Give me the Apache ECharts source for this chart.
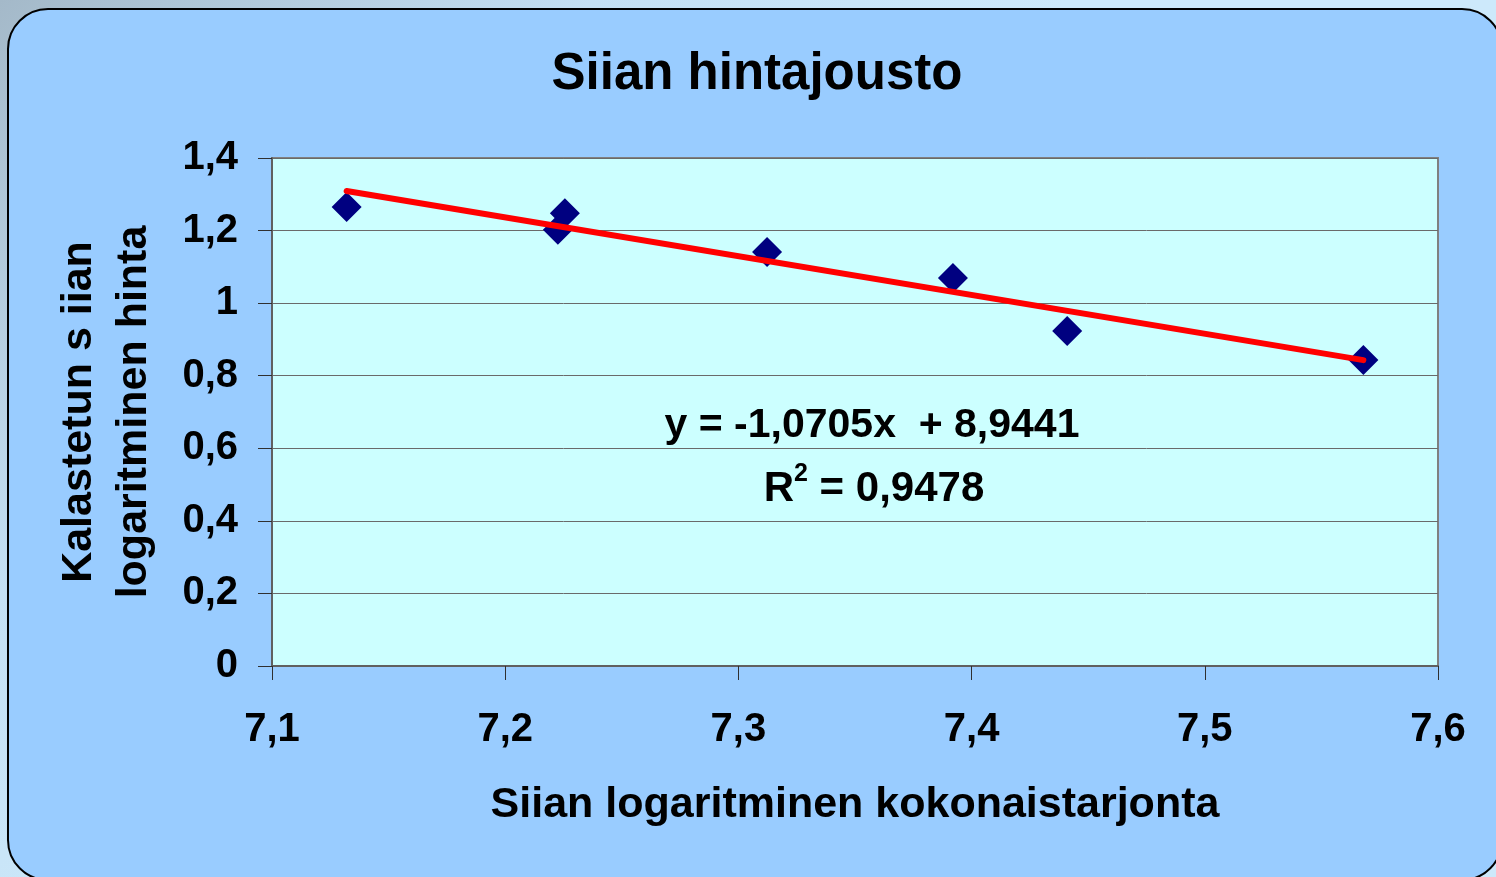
<!DOCTYPE html>
<html>
<head>
<meta charset="utf-8">
<title>Siian hintajousto</title>
<script src="https://cdn.jsdelivr.net/npm/echarts@6/dist/echarts.min.js"></script>
<style>
  html, body { margin: 0; padding: 0; }
  body {
    width: 1496px; height: 877px; overflow: hidden;
    background: linear-gradient(135deg, #a4b9c9 0%, #c4e0f4 25%, #cde9fb 45%, #cde9fb 100%);
  }
  #chart { width: 1496px; height: 877px; }
</style>
</head>
<body>
<div id="chart"></div>
<script>
// havaintopisteet: log kokonaistarjonta, log hinta
const supplyLog = [7.132, 7.2226, 7.2256, 7.3123, 7.392, 7.441, 7.568]
const priceLog = [1.265, 1.202, 1.248, 1.141, 1.069, 0.923, 0.843]

// trendiviivan päätepisteet
const trendX = [7.132, 7.568]
const trendY = [1.309, 0.843]

const titleText = "Siian hintajousto"
const xAxisName = "Siian logaritminen kokonaistarjonta"
const yAxisName = "Kalastetun s iian\nlogaritminen hinta"
const equationText = "y = -1,0705x  + 8,9441"
const r2Value = "0,9478"

const FONT = "'Liberation Sans', Arial, sans-serif"

// pilkku desimaalierottimena
const fmt = (v, d) => {
  if (Math.abs(v) < 1e-9) return "0"
  if (Math.abs(v - Math.round(v)) < 1e-9) return String(Math.round(v))
  return v.toFixed(d).replace(".", ",")
}

const chart = echarts.init(document.getElementById("chart"), null, { renderer: "canvas" })

const option = {
  animation: false,
  title: {
    text: titleText,
    left: 752,
    top: 44,
    textAlign: "center",
    textStyle: { fontFamily: FONT, fontWeight: "bold", fontSize: 51, color: "#000" }
  },
  graphic: [
    {
      type: "rect",
      z: -10,
      shape: { x: 8, y: 9, width: 1494, height: 871, r: 40 },
      style: { fill: "#99ccff", stroke: "#000", lineWidth: 2 }
    },
    {
      type: "text",
      z: 100,
      style: {
        x: 872,
        y: 426,
        align: "center",
        verticalAlign: "middle",
        text: equationText,
        font: "bold 41px " + FONT,
        fill: "#000"
      }
    },
    {
      type: "text",
      z: 100,
      style: {
        x: 874,
        y: 486,
        align: "center",
        verticalAlign: "middle",
        text: "{b|R}{s|2}{b| = " + r2Value + "}",
        fill: "#000",
        rich: {
          b: { fontFamily: FONT, fontWeight: "bold", fontSize: 42, verticalAlign: "bottom", lineHeight: 48 },
          s: { fontFamily: FONT, fontWeight: "bold", fontSize: 25, verticalAlign: "top", lineHeight: 48, padding: [0, 0, 18, 0] }
        }
      }
    }
  ],
  grid: {
    left: 272,
    top: 158,
    right: 58,
    bottom: 211,
    show: true,
    backgroundColor: "#ccffff",
    borderColor: "#808080",
    borderWidth: 2
  },
  xAxis: {
    type: "value",
    min: 7.1,
    max: 7.6,
    interval: 0.1,
    name: xAxisName,
    nameLocation: "middle",
    nameGap: 118,
    nameTextStyle: { fontFamily: FONT, fontWeight: "bold", fontSize: 43, color: "#000" },
    axisLine: { show: true, onZero: false, lineStyle: { color: "#606060", width: 2 } },
    axisTick: { show: true, inside: false, length: 14, lineStyle: { color: "#303030", width: 1 } },
    axisLabel: {
      margin: 44,
      fontFamily: FONT, fontWeight: "bold", fontSize: 40, color: "#000",
      formatter: (v) => fmt(v, 1)
    },
    splitLine: { show: false }
  },
  yAxis: {
    type: "value",
    min: 0,
    max: 1.4,
    interval: 0.2,
    name: yAxisName,
    nameLocation: "middle",
    nameGap: 110,
    nameTextStyle: { fontFamily: FONT, fontWeight: "bold", fontSize: 43, color: "#000", lineHeight: 55 },
    axisLine: { show: true, lineStyle: { color: "#606060", width: 2 } },
    axisTick: { show: true, inside: false, length: 14, lineStyle: { color: "#303030", width: 1 } },
    axisLabel: {
      margin: 34,
      fontFamily: FONT, fontWeight: "bold", fontSize: 40, color: "#000",
      formatter: (v) => fmt(v, 1)
    },
    splitLine: { show: true, lineStyle: { color: "#6a6a6a", width: 1 } }
  },
  series: [
    {
      type: "scatter",
      symbol: "diamond",
      symbolSize: 30,
      itemStyle: { color: "#000080", opacity: 1 },
      data: supplyLog.map((x, i) => [x, priceLog[i]]),
      z: 3
    },
    {
      type: "line",
      symbol: "none",
      lineStyle: { color: "#ff0000", width: 6, cap: "round" },
      data: trendX.map((x, i) => [x, trendY[i]]),
      z: 4
    }
  ]
}

chart.setOption(option)
</script>
</body>
</html>
